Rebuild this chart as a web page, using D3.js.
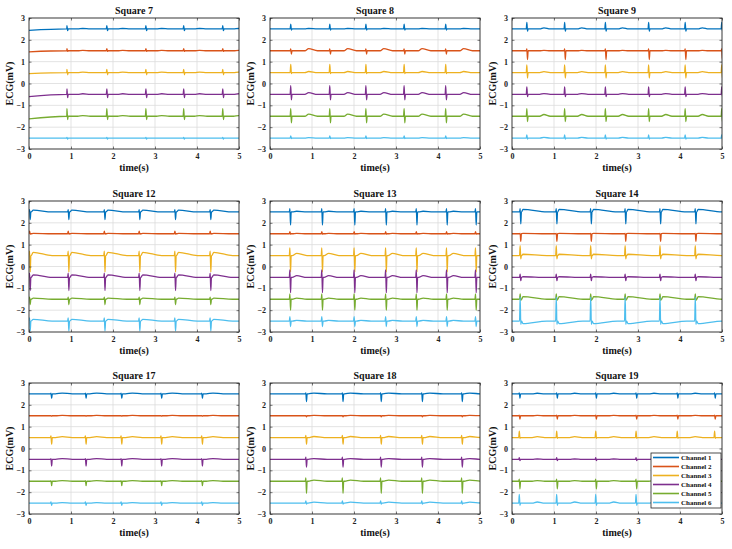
<!DOCTYPE html>
<html>
<head>
<meta charset="utf-8">
<script src="https://cdn.jsdelivr.net/npm/d3@7"></script>
<style>
  html, body { margin: 0; padding: 0; background: #fff; }
  svg text { font-family: "Liberation Serif", "Times New Roman", serif; }
</style>
</head>
<body>
<svg id="chart" width="732" height="549"></svg>
<script>
// ---------------- data ----------------
const panelTitles = ["Square 7", "Square 8", "Square 9", "Square 12", "Square 13", "Square 14", "Square 17", "Square 18", "Square 19"];
const channelNames = ["Channel 1", "Channel 2", "Channel 3", "Channel 4", "Channel 5", "Channel 6"];
const channelColors = ["#0072BD", "#D95319", "#EDB120", "#7E2F8E", "#77AC30", "#4DBEEE"];
const channelOffsets = [2.5, 1.5, 0.5, -0.5, -1.5, -2.5];
const xTicks = [0, 1, 2, 3, 4, 5];
const yTicks = [-3, -2, -1, 0, 1, 2, 3];

// beat (QRS) times per panel, seconds
const beatTimes = [
  [0.91, 1.86, 2.79, 3.69, 4.62],
  [0.50, 1.43, 2.29, 3.20, 4.19],
  [0.36, 1.26, 2.23, 3.26, 4.13, 5.0],
  [0.02, 0.94, 1.80, 2.63, 3.48, 4.32],
  [0.48, 1.24, 2.01, 2.76, 3.49, 4.21, 4.90],
  [0.20, 1.06, 1.88, 2.70, 3.53, 4.37],
  [0.53, 1.35, 2.20, 3.15, 4.12],
  [0.86, 1.73, 2.64, 3.62, 4.57],
  [0.18, 1.07, 2.00, 2.96, 3.94, 4.83]
];
// per panel, per channel: upward QRS deflection (mV)
const qrsUp = [
  [0.15, 0.10, 0.15, 0.25, 0.35, 0.03],
  [0.22, 0.08, 0.38, 0.40, 0.35, 0.10],
  [0.30, 0.08, 0.35, 0.35, 0.35, 0.15],
  [0.10, 0.12, 0.20, 0.20, 0.10, 0.15],
  [0.15, 0.10, 0.35, 0.35, 0.25, 0.20],
  [0.15, 0.02, 0.45, 0.15, 0.25, 1.10],
  [0.03, 0.01, 0.08, 0.03, 0.03, 0.05],
  [0.05, 0.01, 0.10, 0.10, 0.15, 0.10],
  [0.05, 0.03, 0.30, 0.08, 0.10, 0.40]
];
// per panel, per channel: downward QRS deflection (mV)
const qrsDown = [
  [-0.08, -0.03, -0.10, -0.15, -0.15, -0.05],
  [-0.05, -0.15, -0.05, -0.25, -0.30, -0.02],
  [-0.10, -0.40, -0.25, -0.10, -0.25, -0.05],
  [-0.35, -0.02, -0.75, -0.60, -0.25, -0.45],
  [-0.60, -0.02, -0.75, -0.70, -0.50, -0.25],
  [-0.55, -0.35, -0.15, -0.15, -0.05, -0.15],
  [-0.20, -0.02, -0.30, -0.30, -0.20, -0.10],
  [-0.35, -0.05, -0.30, -0.35, -0.55, -0.05],
  [-0.20, -0.15, -0.03, -0.05, -0.35, -0.10]
];
// per panel, per channel: T-wave / repolarisation amplitude (mV)
const tWave = [
  [0.02, 0.02, 0.02, 0.03, 0.03, 0.00],
  [0.02, 0.10, 0.05, 0.08, 0.10, 0.02],
  [0.05, 0.02, 0.04, 0.04, 0.08, 0.03],
  [0.08, 0.02, 0.15, 0.12, 0.05, 0.08],
  [0.03, 0.02, 0.10, 0.08, 0.05, 0.03],
  [0.12, 0.02, 0.06, 0.03, 0.12, -0.12],
  [0.04, 0.02, 0.04, 0.04, 0.03, 0.02],
  [0.04, 0.02, 0.05, 0.04, 0.05, 0.04],
  [0.03, 0.02, 0.04, 0.02, 0.03, 0.05]
];
// per panel: [T-wave delay after beat (s), T-wave duration (s), peak position fraction]
const tTiming = [
  [0.25, 0.30, 0.4], [0.33, 0.30, 0.3], [0.30, 0.25, 0.4],
  [0.03, 0.50, 0.1], [0.05, 0.35, 0.3], [0.03, 0.60, 0.05],
  [0.10, 0.40, 0.4], [0.05, 0.45, 0.3], [0.30, 0.30, 0.4]
];
// per panel, per channel: baseline offset at recording start (mV)
const startDrift = [
  [-0.07, -0.05, -0.05, -0.10, -0.12, 0],
  [0, 0, 0, 0, 0, 0], [0, 0, 0, 0, 0, 0],
  [0, 0, 0, 0, 0, 0], [0, 0, 0, 0, 0, 0], [0, 0, 0, 0, 0, 0],
  [0, 0, 0, 0, 0, 0], [0, 0, 0, 0, 0, 0], [0, 0, 0, 0, 0, 0]
];

// ---------------- layout ----------------
const colLeft = [29, 270, 512];
const rowTop = [18, 201, 383];
const plotW = 210, plotH = 131;

const svg = d3.select("#chart");

function tracePoints(p, c) {
  const base = channelOffsets[c];
  const up = qrsUp[p][c], dn = qrsDown[p][c], tw = tWave[p][c];
  const [td, tl, tf] = tTiming[p];
  const pts = [[0, base + startDrift[p][c]]];
  if (startDrift[p][c] !== 0) pts.push([0.9, base]);
  beatTimes[p].forEach(b => {
    pts.push([b - 0.02, base]);
    pts.push([b - 0.006, base + up]);
    pts.push([b + 0.009, base + dn]);
    pts.push([b + 0.024, base]);
    if (tw !== 0) {
      pts.push([b + td, base]);
      pts.push([b + td + tf * tl, base + tw]);
      pts.push([b + td + tl, base]);
    }
  });
  pts.push([5.05, base]);
  pts.sort((a, b) => a[0] - b[0]);
  return pts;
}

panelTitles.forEach((title, p) => {
  const col = p % 3, row = Math.floor(p / 3);
  const g = svg.append("g").attr("transform", `translate(${colLeft[col]},${rowTop[row]})`);
  const x = d3.scaleLinear().domain([0, 5]).range([0, plotW]);
  const y = d3.scaleLinear().domain([-3, 3]).range([plotH, 0]);

  // grid
  g.append("g").selectAll("line").data(xTicks.slice(1, -1)).join("line")
    .attr("x1", d => x(d)).attr("x2", d => x(d)).attr("y1", 0).attr("y2", plotH)
    .attr("stroke", "#dcdcdc").attr("stroke-width", 0.8);
  g.append("g").selectAll("line").data(yTicks.slice(1, -1)).join("line")
    .attr("x1", 0).attr("x2", plotW).attr("y1", d => y(d)).attr("y2", d => y(d))
    .attr("stroke", "#dcdcdc").attr("stroke-width", 0.8);

  // clip
  const clipId = "clip" + p;
  g.append("clipPath").attr("id", clipId).append("rect")
    .attr("x", 0).attr("y", 0).attr("width", plotW).attr("height", plotH);

  const line = d3.line().x(d => x(d[0])).y(d => y(d[1])).curve(d3.curveMonotoneX);
  const traces = g.append("g").attr("clip-path", `url(#${clipId})`);
  channelNames.forEach((name, c) => {
    traces.append("path")
      .attr("d", line(tracePoints(p, c)))
      .attr("fill", "none")
      .attr("stroke", channelColors[c])
      .attr("stroke-width", 1.3)
      .attr("stroke-linejoin", "round");
  });

  // axes
  const xAxis = d3.axisBottom(x).tickValues(xTicks).tickSize(-2.5).tickPadding(5).tickFormat(d3.format("d"));
  const yAxis = d3.axisLeft(y).tickValues(yTicks).tickSize(-2.5).tickPadding(4).tickFormat(d3.format("d"));
  const gx = g.append("g").attr("transform", `translate(0,${plotH})`).call(xAxis);
  const gy = g.append("g").call(yAxis);
  g.append("g").call(d3.axisTop(x).tickValues(xTicks).tickSize(-2.5).tickFormat(""));
  g.append("g").attr("transform", `translate(${plotW},0)`)
    .call(d3.axisRight(y).tickValues(yTicks).tickSize(-2.5).tickFormat(""));
  g.selectAll(".domain").remove();
  g.selectAll(".tick line").attr("stroke", "#222").attr("stroke-width", 0.6);
  [gx, gy].forEach(a => a.selectAll("text")
    .attr("font-family", "Liberation Serif, serif")
    .attr("font-size", 8).attr("font-weight", "bold").attr("fill", "#222"));
  gx.selectAll("text").attr("dy", "0.6em");

  // box
  g.append("rect").attr("x", 0).attr("y", 0).attr("width", plotW).attr("height", plotH)
    .attr("fill", "none").attr("stroke", "#222").attr("stroke-width", 0.9);

  // labels
  g.append("text").attr("x", plotW / 2).attr("y", -4).attr("text-anchor", "middle")
    .attr("font-size", 10).attr("font-weight", "bold").attr("fill", "#111").text(title);
  g.append("text").attr("x", plotW / 2).attr("y", plotH + 22).attr("text-anchor", "middle")
    .attr("font-size", 10).attr("font-weight", "bold").attr("fill", "#111").text("time(s)");
  g.append("text").attr("transform", `translate(-16,${plotH / 2}) rotate(-90)`)
    .attr("text-anchor", "middle")
    .attr("font-size", 10).attr("font-weight", "bold").attr("fill", "#111").text("ECG(mV)");

  // legend in last panel
  if (p === panelTitles.length - 1) {
    const lg = g.append("g").attr("transform", `translate(139,70)`);
    lg.append("rect").attr("x", 0).attr("y", 0).attr("width", 70).attr("height", 55)
      .attr("fill", "#fff").attr("stroke", "#222").attr("stroke-width", 0.8);
    channelNames.forEach((name, c) => {
      const yy = 4.5 + c * 9;
      lg.append("line").attr("x1", 2).attr("x2", 28).attr("y1", yy).attr("y2", yy)
        .attr("stroke", channelColors[c]).attr("stroke-width", 1.6);
      lg.append("text").attr("x", 30).attr("y", yy).attr("dy", "0.33em")
        .attr("font-size", 7).attr("font-weight", "bold").attr("fill", "#111").text(name);
    });
  }
});
</script>
</body>
</html>
